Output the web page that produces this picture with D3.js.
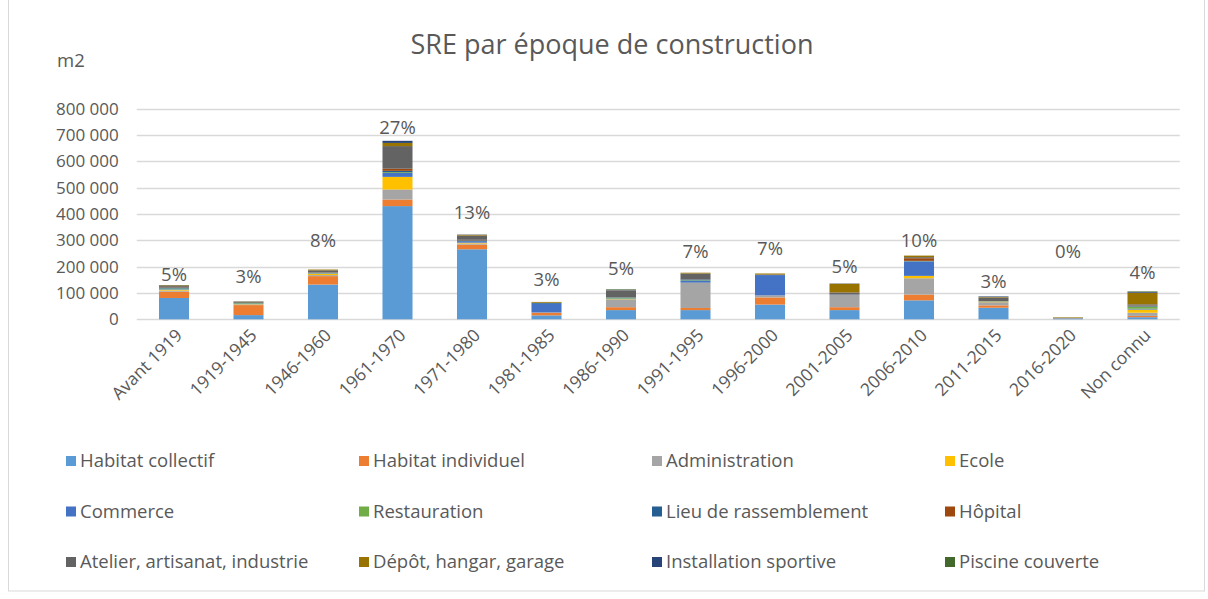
<!DOCTYPE html>
<html>
<head>
<meta charset="utf-8">
<script src="https://cdn.jsdelivr.net/npm/d3@7"></script>
<style>
  body { margin: 0; background: #fff; }
  text { font-family: "Open Sans", "Liberation Sans", sans-serif; fill: #595959; }
</style>
</head>
<body>
<div id="content"></div>
<script>
const periods = ["Avant 1919", "1919-1945", "1946-1960", "1961-1970", "1971-1980", "1981-1985", "1986-1990",
    "1991-1995", "1996-2000", "2001-2005", "2006-2010", "2011-2015", "2016-2020", "Non connu"];

const categories = ["Habitat collectif", "Habitat individuel", "Administration", "Ecole", "Commerce", "Restauration",
    "Lieu de rassemblement", "Hôpital", "Atelier, artisanat, industrie", "Dépôt, hangar, garage",
    "Installation sportive", "Piscine couverte"];

const colors = ["#5B9BD5", "#ED7D31", "#A5A5A5", "#FFC000", "#4472C4", "#70AD47",
    "#255E91", "#9E480E", "#636363", "#997300", "#264478", "#43682B"];

// m2 per category, one entry per period
const habitatCollectif  = [81000, 16000, 132000, 430000, 266000, 15000, 35000, 35000, 56000, 35000, 72000, 44000, 4000, 8000];
const habitatIndividuel = [24000, 38000, 32000, 25000, 18000, 10000, 11000, 8000, 27000, 11000, 22000, 9000, 1000, 5000];
const administration    = [4000, 3000, 4000, 38000, 4000, 1000, 30000, 95000, 8000, 47000, 62000, 12000, 1000, 12000];
const ecole             = [3000, 1000, 5000, 48000, 3000, 0, 1000, 1000, 0, 0, 9000, 2000, 0, 12000];
const commerce          = [2000, 1000, 2000, 15000, 6000, 33000, 2000, 7000, 77000, 1000, 55000, 1000, 0, 3000];
const restauration      = [3000, 2000, 1000, 3000, 1000, 0, 3000, 2000, 0, 0, 1000, 1000, 0, 8000];
const lieuRassemblement = [2000, 1000, 1000, 5000, 2000, 3000, 1000, 3000, 0, 0, 1000, 0, 0, 2000];
const hopital           = [1000, 0, 1000, 8000, 2000, 0, 0, 0, 0, 0, 10000, 0, 0, 2000];
const atelier           = [6000, 3000, 8000, 86000, 16000, 1000, 26000, 23000, 2000, 8000, 4000, 14000, 0, 5000];
const depot             = [3000, 2000, 3000, 12000, 3000, 3000, 1000, 3000, 4000, 33000, 6000, 2000, 2000, 44000];
const installSportive   = [1000, 1000, 0, 8000, 1000, 0, 2000, 0, 0, 1000, 0, 2000, 0, 3000];
const piscine           = [0, 0, 0, 0, 0, 0, 2000, 0, 0, 0, 0, 0, 0, 2000];

const shares = [5, 3, 8, 27, 13, 3, 5, 7, 7, 5, 10, 3, 0, 4];
// invisible helper series carrying the percentage labels (m2)
const shareLabelPos = [171000, 161000, 300000, 730000, 404000, 151000, 193000, 256000, 269000, 199000, 300000, 142000, 256000, 179000];

const yTicks = [0, 100000, 200000, 300000, 400000, 500000, 600000, 700000, 800000];

const series = [habitatCollectif, habitatIndividuel, administration, ecole, commerce, restauration,
    lieuRassemblement, hopital, atelier, depot, installSportive, piscine];

const width = 1208, height = 599;
let svg = d3.select("#content").append("svg").attr("width", width).attr("height", height);

// chart frame
svg.append("rect").attr("x", 8.5).attr("y", -1).attr("width", 1196).attr("height", 592)
    .attr("fill", "none").attr("stroke", "#d9d9d9");

let rows = periods.map((p, i) => {
    let r = { period: p };
    categories.forEach((c, k) => r[c] = series[k][i]);
    return r;
});

let x = d3.scaleBand().domain(periods).range([136.75, 1179.75]).paddingInner(0.597).paddingOuter(0.2985);
let y = d3.scaleLinear().domain([0, 800000]).range([319.3, 108.7]);

// gridlines
svg.append("g").selectAll("line").data(yTicks).enter().append("line")
    .attr("x1", 136.75).attr("x2", 1179.75)
    .attr("y1", d => Math.round(y(d)) + 0.5).attr("y2", d => Math.round(y(d)) + 0.5)
    .attr("stroke", "#d9d9d9").attr("stroke-width", 1.3);

// y axis labels
let fmt = d => d3.format(",")(d).replace(/,/g, " ");
let yAxis = svg.append("g").attr("transform", "translate(136.75,0)")
    .call(d3.axisLeft(y).tickValues(yTicks).tickFormat(fmt).tickSize(0).tickPadding(18));
yAxis.select(".domain").remove();
yAxis.selectAll("text").style("font-size", "17px").attr("fill", "#595959")
    .style("font-family", "'Open Sans', 'Liberation Sans', sans-serif");

// stacked bars
let stack = d3.stack().keys(categories)(rows);
svg.append("g").selectAll("g").data(stack).enter().append("g")
    .attr("fill", (d, i) => colors[i])
    .selectAll("rect").data(d => d).enter().append("rect")
    .attr("x", d => x(d.data.period))
    .attr("width", x.bandwidth())
    .attr("y", d => y(d[1]))
    .attr("height", d => y(d[0]) - y(d[1]));

// percentage labels
svg.append("g").selectAll("text").data(periods).enter().append("text")
    .attr("x", d => x(d) + x.bandwidth() / 2)
    .attr("y", (d, i) => y(shareLabelPos[i]))
    .attr("dy", "0.35em")
    .attr("text-anchor", "middle")
    .style("font-size", "18.5px")
    .text((d, i) => shares[i] + "%");

// x labels
svg.append("g").selectAll("text").data(periods).enter().append("text")
    .attr("transform", d => `translate(${x(d) + x.bandwidth() / 2 + 5},${332}) rotate(-45)`)
    .attr("text-anchor", "end")
    .attr("dy", "0.35em")
    .style("font-size", "17.5px")
    .text(d => d);

// title + unit
svg.append("text").attr("x", 612).attr("y", 45).attr("dy", "0.35em").attr("text-anchor", "middle")
    .style("font-size", "27px").text("SRE par époque de construction");
svg.append("text").attr("x", 57).attr("y", 61).attr("dy", "0.35em")
    .style("font-size", "18.5px").text("m2");

// legend
let legend = svg.append("g").selectAll("g").data(categories).enter().append("g")
    .attr("transform", (d, i) => `translate(${66 + (i % 4) * 293},${461 + Math.floor(i / 4) * 50.5})`);
legend.append("rect").attr("x", 0).attr("y", -5).attr("width", 10).attr("height", 10)
    .attr("fill", (d, i) => colors[i]);
legend.append("text").attr("x", 14).attr("dy", "0.35em").style("font-size", "18.5px").text(d => d);
</script>
</body>
</html>
